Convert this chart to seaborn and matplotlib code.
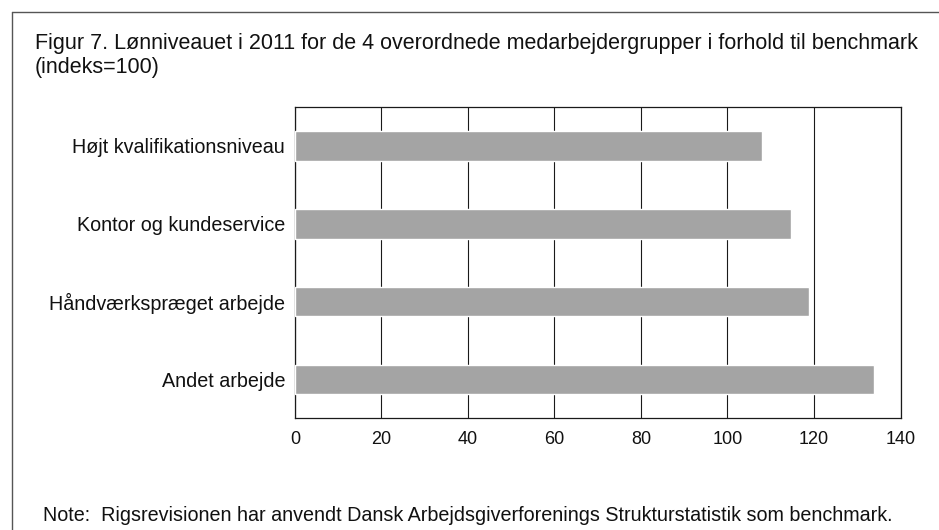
import matplotlib
matplotlib.use("Agg")
import matplotlib.pyplot as plt
from matplotlib.lines import Line2D
import seaborn as sns
import pandas as pd

# ---------------------------
# Data
# ---------------------------
groups = ["Højt kvalifikationsniveau", "Kontor og kundeservice",
          "Håndværkspræget arbejde", "Andet arbejde"]
index_values = [108.0, 114.7, 118.8, 133.8]
x_ticks = [0, 20, 40, 60, 80, 100, 120, 140]

df = pd.DataFrame({"gruppe": groups, "indeks": index_values})

sns.set_style("white")
plt.rcParams["font.family"] = ["Liberation Sans", "DejaVu Sans"]

fig = plt.figure(figsize=(9.39, 5.30), dpi=100)
ax = fig.add_axes([0.314, 0.211, 0.645, 0.587])

sns.barplot(data=df, x="indeks", y="gruppe", orient="h", color="#a4a4a4",
            width=0.38, saturation=1, ax=ax, zorder=3)

ax.set_xlim(0, 140)
ax.set_ylim(3.5, -0.5)
ax.set_xticks(x_ticks)
ax.set_xticklabels([str(t) for t in x_ticks], fontsize=13, color="#111")
ax.tick_params(axis="y", labelsize=14.2, length=0, pad=7, colors="#111")
ax.set_yticks([0.5, 1.5, 2.5], minor=True)
ax.tick_params(axis="y", which="minor", direction="inout", length=6, width=0.9, color="#222")
ax.tick_params(axis="x", direction="inout", length=6, width=0.9, color="#222", pad=6)
ax.set_xlabel("")
ax.set_ylabel("")

# vertical gridlines
ax.xaxis.grid(True, color="#1a1a1a", linewidth=0.8, zorder=1)
ax.set_axisbelow(True)
for s in ax.spines.values():
    s.set_visible(True)
    s.set_color("#1a1a1a")
    s.set_linewidth(0.9)

# title and note
fig.text(0.037, 0.918, "Figur 7. Lønniveauet i 2011 for de 4 overordnede medarbejdergrupper i forhold til benchmark",
         fontsize=15.5, color="#111", va="center", ha="left")
fig.text(0.037, 0.873, "(indeks=100)", fontsize=15.5, color="#111", va="center", ha="left")
fig.text(0.046, 0.028, "Note:  Rigsrevisionen har anvendt Dansk Arbejdsgiverforenings Strukturstatistik som benchmark.",
         fontsize=14.2, color="#111", va="center", ha="left")

# scanned frame (top and left edges)
fig.add_artist(Line2D([0.013, 1.0], [0.977, 0.977], color="#555", linewidth=1.0))
fig.add_artist(Line2D([0.013, 0.013], [0.0, 0.977], color="#555", linewidth=1.0))

fig.savefig("out.png", dpi=100)
